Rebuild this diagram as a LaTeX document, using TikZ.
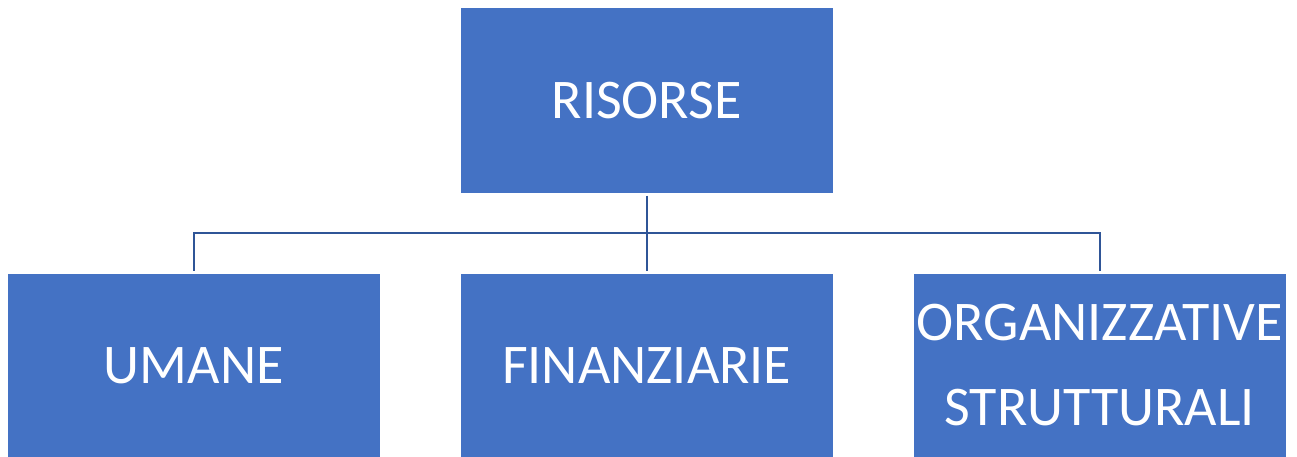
\documentclass[tikz,border=0pt]{standalone}
\usepackage{fontspec}
\setmainfont{Carlito}
\usepackage{tikz}
\usetikzlibrary{positioning, calc}
\definecolor{boxblue}{HTML}{4472C4}
\definecolor{linkblue}{HTML}{2F5597}
\tikzset{
	every node/.append style={
		outer sep=0pt,
	},
	unit/.append style={
		fill=boxblue,
		text=white,
		align=center,
		minimum width=372pt,
		minimum height=184pt,
		inner sep=0pt,
		font={\fontsize{56}{85}\selectfont}
	},
	link/.append style={
		draw=linkblue,
		line width=2pt,
		shorten <=3pt,
		shorten >=3pt
	}
}

\begin{document}
\begin{tikzpicture}[x=1pt, y=1pt, node distance=81pt]
	\useasboundingbox (0,0) rectangle (1297,-457);
	\node(risorse)[unit] at (646.7,-100.5) {RISORSE};
	\node(finanziarie)[unit, below = of risorse] {FINANZIARIE};
	\node(umane)[unit, left = of finanziarie] {UMANE};
	\node(organizzative)[unit, right = of finanziarie] {ORGANIZZATIVE\\STRUTTURALI};
	\coordinate(hub) at ($(risorse.south)!0.5!(finanziarie.north)$);

	\draw[link] (risorse.south) -- (finanziarie.north);
	\draw[link] (umane.north) -- (umane.north |- hub) -- (organizzative.north |- hub) -- (organizzative.north);
\end{tikzpicture}
\end{document}
